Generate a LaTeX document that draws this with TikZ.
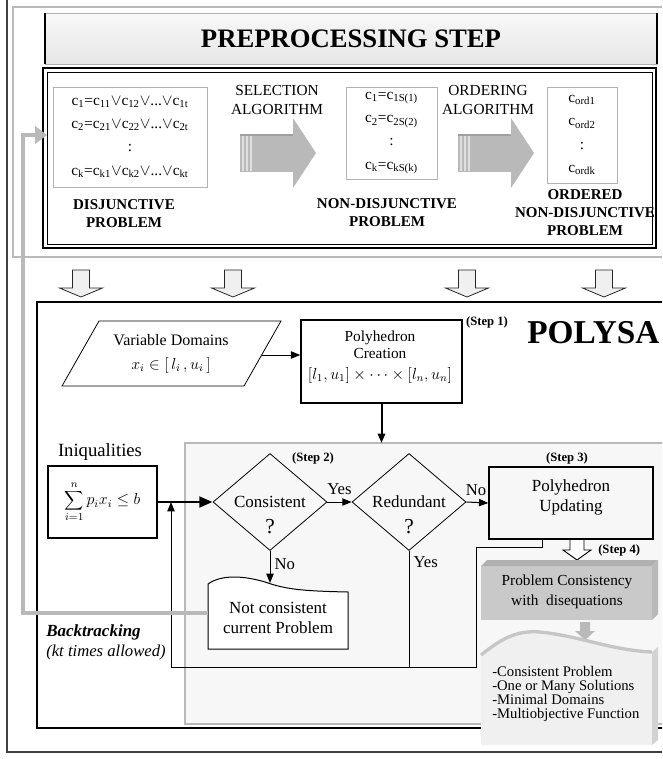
\documentclass[tikz,border=0pt]{standalone}
\usepackage{fontspec}
\setmainfont{Liberation Serif}
\usepackage{tikz}
\usetikzlibrary{shapes.geometric}
\usetikzlibrary{arrows.meta}
\usepackage{xcolor}

\newcommand{\csub}[1]{\textsubscript{#1}}

\tikzset{
  cbox/.style={draw=gray!60, line width=0.6pt, inner sep=0pt, align=center, font=\fontsize{11.5}{17.5}\selectfont},
  lbl/.style={inner sep=0pt, align=center, font=\bfseries\fontsize{11.25}{13.5}\selectfont},
  alglbl/.style={inner sep=0pt, align=center, font=\fontsize{11.5}{14.25}\selectfont},
  steplbl/.style={inner sep=0pt, font=\bfseries\fontsize{9.5}{11}\selectfont},
  procbox/.style={draw, line width=1.1pt, inner sep=0pt},
  decision/.style={diamond, draw, line width=0.6pt, minimum width=85.5pt, minimum height=72.75pt, inner sep=0pt},
  flow/.style={-{Triangle[length=7pt,width=5.5pt]}, line width=0.75pt},
  yn/.style={inner sep=0pt, font=\fontsize{12.5}{14}\selectfont},
  blockdown/.style={fill=gray!12, draw=gray!30!black, line width=0.6pt},
  backtrack/.style={draw=gray!55, line width=2.6pt, -{Triangle[length=9pt,width=13pt]}}
}

\begin{document}
\begin{tikzpicture}[x=0.75pt,y=-0.75pt]
\useasboundingbox (0,0) rectangle (662,759);
\clip (0,0) rectangle (662,759);

% frames
\draw [black!75, line width=0.9pt] (7,-10) rectangle (700,752);
\draw [gray!55, line width=1.5pt] (13,7) rectangle (700,257);

% preprocessing header
\fill [top color=gray!5, bottom color=gray!20] (45,13) rectangle (657,64);
\draw [gray!60, line width=0.6pt] (45,13) rectangle (657,64);
\draw [line width=2pt] (45,13) -- (45,64) (657,13) -- (657,64);
\node [font=\bfseries\fontsize{20}{24}\selectfont] (prephead) at (351,39) {PREPROCESSING STEP};

\draw [line width=0.8pt] (43,68) rectangle (656,248);
\draw [line width=0.6pt] (47,72) rectangle (652,244);
\draw [line width=1.6pt] (656,70) -- (656,248);

% problem boxes
\node [cbox, minimum width=115.5pt, minimum height=75pt] (disj) at (130,137)
  {c\csub{1}=c\csub{11}$\vee$c\csub{12}$\vee$...$\vee$c\csub{1t}\\
   c\csub{2}=c\csub{21}$\vee$c\csub{22}$\vee$...$\vee$c\csub{2t}\\ :\\
   c\csub{k}=c\csub{k1}$\vee$c\csub{k2}$\vee$...$\vee$c\csub{kt}};
\node [cbox, minimum width=68.25pt, minimum height=69pt] (nondisj) at (391.5,133)
  {c\csub{1}=c\csub{1S(1)}\\ c\csub{2}=c\csub{2S(2)}\\ :\\ c\csub{k}=c\csub{kS(k)}};
\node [cbox, minimum width=52.5pt, minimum height=72pt] (ordered) at (582,135)
  {c\csub{ord1}\\ c\csub{ord2}\\ :\\ c\csub{ordk}};

\node [lbl] (disjlbl) at (124,214) {DISJUNCTIVE\\PROBLEM};
\node [lbl] (nondisjlbl) at (387,213) {NON-DISJUNCTIVE\\PROBLEM};
\node [lbl] (orderedlbl) at (585,213) {ORDERED\\NON-DISJUNCTIVE\\PROBLEM};
\node [alglbl] (sellbl) at (277,100) {SELECTION\\ALGORITHM};
\node [alglbl] (ordlbl) at (488,100) {ORDERING\\ALGORITHM};

% fat arrows
\foreach \ax in {240,458} {
  \fill [gray!55] (\ax,135) -- (\ax+53,135) -- (\ax+53,118) -- (\ax+76,153) -- (\ax+53,188) -- (\ax+53,172) -- (\ax,172) -- cycle;
  \draw [gray!75, line width=1.2pt] (\ax,135) -- (\ax+53,135);
  \foreach \dx in {3,7,11} \draw [gray!25, line width=0.8pt] (\ax+\dx,136) -- (\ax+\dx,171);
}

% arrows into POLYSA
\foreach \ax in {81,233,467,604}
  \draw [blockdown] (\ax-8.5,270) -- (\ax-8.5,288) -- (\ax-21.5,288) -- (\ax,297) -- (\ax+21.5,288) -- (\ax+8.5,288) -- (\ax+8.5,270) -- cycle;

% POLYSA
\draw [line width=0.8pt] (37,302) rectangle (700,728);
\node [anchor=west, inner sep=0pt, font=\bfseries\fontsize{25}{30}\selectfont] (polysa) at (527,333) {POLYSA};

\draw [line width=0.6pt] (62,386) -- (99,321) -- (281,321) -- (244,386) -- cycle;
\node [font=\fontsize{12}{14}\selectfont] (vdtitle) at (171,340) {Variable Domains};
\node [font=\fontsize{12}{14}\selectfont] (vdmath) at (171,365) {$x_i \in \bigl[\,l_i\,, u_i\,\bigr]$};
\coordinate (vdout) at (262,355);

\node [procbox, minimum width=120.75pt, minimum height=62.25pt] (create) at (381.5,361.5) {};
\node [align=center, inner sep=0pt, font=\fontsize{11.5}{12.75}\selectfont] (createtxt) at (380,357)
  {Polyhedron\\Creation\\[3pt] $[l_1,u_1]\times\cdots\times[l_n,u_n]$};
\node [steplbl] (step1) at (487,322) {(Step 1)};
\draw [flow] (vdout) -- (vdout -| create.west);

% loop region
\draw [gray!55, line width=1.8pt, fill=gray!6] (185,443) rectangle (700,724);
\coordinate (graytop) at (381.5,443);
\draw [flow, line width=1.5pt] (create.south) -- (graytop);

\node [font=\fontsize{14}{16}\selectfont] (ineqtitle) at (100,452) {Iniqualities};
\node [draw, line width=0.8pt, minimum width=81.75pt, minimum height=54pt, font=\fontsize{12}{14}\selectfont] (ineq) at (102.5,502)
  {$\displaystyle\sum_{i=1}^{n} p_i x_i \le b$};

\node [decision] (cons) at (270,502) {};
\node [yn, font=\fontsize{12.75}{15}\selectfont] (constxt) at (270,502) {Consistent};
\node [inner sep=0pt, font=\fontsize{16}{18}\selectfont] (consq) at (270,527) {?};
\node [decision] (red) at (409,502) {};
\node [yn, font=\fontsize{12.75}{15}\selectfont] (redtxt) at (409,502) {Redundant};
\node [inner sep=0pt, font=\fontsize{16}{18}\selectfont] (redq) at (409,527) {?};
\node [steplbl] (step2) at (313,458) {(Step 2)};

\node [procbox, minimum width=123pt, minimum height=54pt] (upd) at (571,503) {};
\node [align=center, inner sep=0pt, font=\fontsize{12.75}{15}\selectfont] (updtxt) at (571,497) {Polyhedron\\Updating};
\node [steplbl] (step3) at (567,458) {(Step 3)};

% not consistent
\draw [line width=0.75pt, fill=white] (208,649) -- (208,584) .. controls (222,574) and (245,576) .. (265,582) .. controls (285,589) and (300,591) .. (348,592) -- (348,649) -- cycle;
\node [align=center, inner sep=0pt, font=\fontsize{12.75}{15}\selectfont] (notcons) at (278,618) {Not consistent\\current Problem};
\coordinate (nctop) at (270,583);
\coordinate (ncleft) at (208,613);

% loop back
\coordinate (lpa) at (542,547);
\coordinate (lpb) at (476,547);
\coordinate (lpc) at (476,667);
\coordinate (lpd) at (171,667);
\draw [line width=0.75pt] (upd.south -| lpa) -- (lpa) -- (lpb) -- (lpc) -- (lpd);
\draw [flow] (lpd) -- (lpd |- cons.west);
\draw [line width=0.75pt] (red.south) -- (red.south |- lpc) node [yn, pos=0.1, right=3pt] (yes2) {Yes};

\draw [flow, line width=2.2pt, -{Triangle[length=10pt,width=8pt]}] (ineq.east) -- (cons.west);
\draw [flow] (cons.east) -- (red.west) node [yn, midway, above=5pt] (yes1) {Yes};
\draw [flow] (red.east) -- (upd.west) node [yn, midway, above=5pt, xshift=-1pt] (no1) {No};
\draw [flow] (cons.south) -- (nctop) node [yn, pos=0.4, right=3pt] (no2) {No};

% step 4
\draw [fill=white, line width=0.7pt] (570,540) -- (570,550) -- (563,550) -- (577,560) -- (591,550) -- (584,550) -- (584,540);
\node [steplbl, anchor=west] (step4) at (598,550) {(Step 4)};

\fill [gray!42] (481,566) rectangle (652,620);
\fill [gray!62] (481,566) -- (487,560) -- (658,560) -- (652,566) -- cycle;
\fill [gray!55] (652,566) -- (658,560) -- (658,614) -- (652,620) -- cycle;
\node [align=center, inner sep=0pt, font=\fontsize{11.5}{15}\selectfont] (pcons) at (567,592) {Problem Consistency\\with\ \ disequations};

\fill [gray!55] (580,622) -- (580,631) -- (575,631) -- (585,640) -- (595,631) -- (590,631) -- (590,622) -- cycle;

\fill [gray!12] (481,745) -- (481,655) .. controls (500,640) and (515,630) .. (540,632) .. controls (580,636) and (610,650) .. (652,652) -- (652,745) -- cycle;
\draw [gray!45, line width=2.5pt] (481,655) .. controls (500,640) and (515,630) .. (540,632) .. controls (580,636) and (610,650) .. (652,652);
\fill [gray!35] (652,652) -- (658,647) -- (658,740) -- (652,745) -- cycle;
\node [anchor=north west, align=left, inner sep=0pt, font=\fontsize{11}{10.5}\selectfont] (result) at (492,666)
  {-Consistent Problem\\-One or Many Solutions\\-Minimal Domains\\-Multiobjective Function};

% backtracking
\node [anchor=west, inner sep=0pt, font=\bfseries\itshape\fontsize{12.75}{15}\selectfont] (btlbl) at (46,632) {Backtracking};
\node [anchor=west, inner sep=0pt, font=\itshape\fontsize{12.5}{15}\selectfont] (btnote) at (46,652) {(kt times allowed)};
\coordinate (btcorner) at (23,613);
\coordinate (btend) at (47,135);
\draw [backtrack] (ncleft) -- (btcorner) |- (btend);

\end{tikzpicture}
\end{document}
